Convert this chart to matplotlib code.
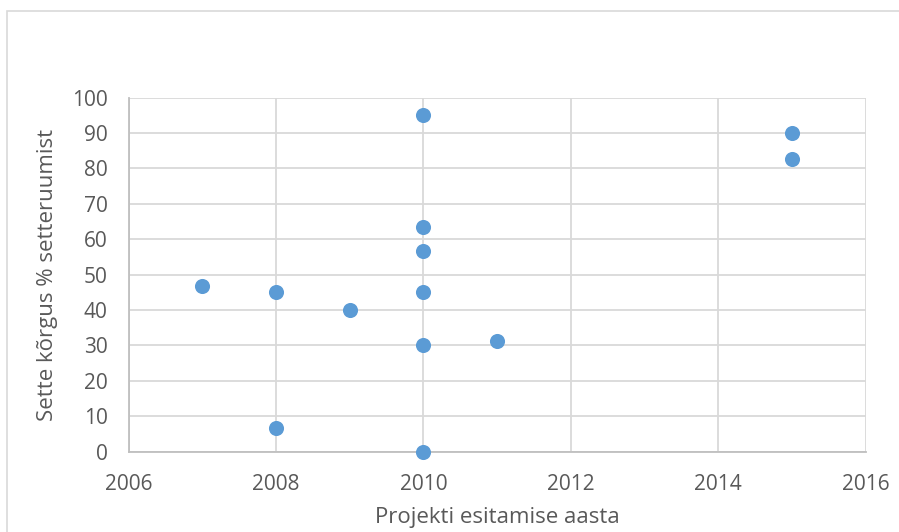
import matplotlib
matplotlib.use("Agg")
import matplotlib.pyplot as plt
from matplotlib.patches import Rectangle

years = [2007, 2008, 2008, 2009, 2010, 2010, 2010, 2010, 2010, 2010, 2011, 2015, 2015]
heights = [46.7, 45.0, 6.7, 40.0, 95.0, 63.3, 56.7, 45.0, 30.0, 0.0, 31.2, 90.0, 82.5]
x_ticks = [2006, 2008, 2010, 2012, 2014, 2016]
y_ticks = [0, 10, 20, 30, 40, 50, 60, 70, 80, 90, 100]
x_label = "Projekti esitamise aasta"
y_label = "Sette kõrgus % setteruumist"

plt.rcParams['font.family'] = ['Open Sans', 'DejaVu Sans']
W, H = 899, 532
fig = plt.figure(figsize=(W/100, H/100), dpi=100)
fig.patches.append(Rectangle((7/W, -0.05), 1.1, 1.05 - 11/H, transform=fig.transFigure,
                             fill=False, edgecolor='#D9D9D9', linewidth=1.2))
L, R, T, B = 128.5, 865.7, 97.5, 451.7
ax = fig.add_axes([L/W, (H-B)/H, (R-L)/W, (B-T)/H])
ax.scatter(years, heights, s=118, color='#5B9BD5', zorder=3, linewidths=0, clip_on=False)
ax.set_xlim(2006, 2016)
ax.set_ylim(0, 100)
ax.set_xticks(x_ticks)
ax.set_yticks(y_ticks)
ax.grid(True, color='#D9D9D9', linewidth=1.3, zorder=0)
for s in ['top', 'right']:
    ax.spines[s].set_visible(False)
for s in ['left', 'bottom']:
    ax.spines[s].set_color('#BFBFBF')
    ax.spines[s].set_linewidth(1.3)
ax.tick_params(length=0, labelsize=15, labelcolor='#595959')
ax.tick_params(axis='y', pad=15)
ax.tick_params(axis='x', pad=16)
ax.set_xlabel(x_label, fontsize=16, color='#595959', labelpad=9)
ax.set_ylabel(y_label, fontsize=16, color='#595959', labelpad=10)
ax.set_axisbelow(True)
fig.savefig("out.png", dpi=100)
